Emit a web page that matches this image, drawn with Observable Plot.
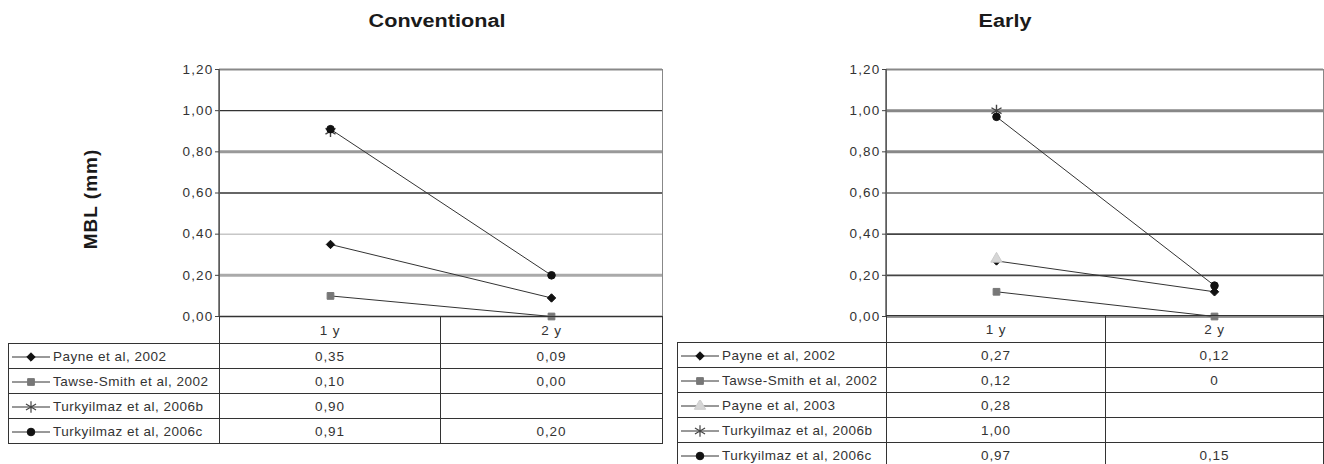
<!DOCTYPE html>
<html><head><meta charset="utf-8">
<script src="https://cdn.jsdelivr.net/npm/d3@7"></script>
<script src="https://cdn.jsdelivr.net/npm/@observablehq/plot@0.6"></script>
<style>
body{margin:0;background:#fff;font-family:"Liberation Sans",Arial,sans-serif;}
#root{position:relative;width:1324px;height:464px;overflow:hidden;background:#fff;}
.title{position:absolute;top:11px;font-weight:bold;font-size:18px;color:#1a1a1a;transform:translateX(-50%) scaleX(1.2);white-space:nowrap;}
.ylab{position:absolute;left:91px;top:199px;font-weight:bold;font-size:19px;letter-spacing:1px;color:#1a1a1a;transform:translate(-50%,-50%) rotate(-90deg);white-space:nowrap;}
.chart{position:absolute;top:50px;}
.chart svg text{letter-spacing:1.2px;}
table.t{position:absolute;border-collapse:collapse;font-size:13.5px;letter-spacing:0.9px;color:#333;table-layout:fixed;}
table.t td{border:1px solid #333;padding:0;text-align:center;overflow:hidden;white-space:nowrap;}
table.t td.leg{text-align:left;padding-left:2px;letter-spacing:0.5px;}
table.t td.blank{border:none;}
table.t svg{vertical-align:middle;margin-right:2px;}
</style></head>
<body><div id="root"></div>
<script>
// ---- data ----
const categories = ["1 y", "2 y"];
const yTicks = [0, 0.2, 0.4, 0.6, 0.8, 1.0, 1.2];

const convSeries = ["Payne et al, 2002", "Tawse-Smith et al, 2002", "Turkyilmaz et al, 2006b", "Turkyilmaz et al, 2006c"];
const convY1 = [0.35, 0.10, 0.90, 0.91];
const convY2 = [0.09, 0.00, null, 0.20];
const convLabels1 = ["0,35", "0,10", "0,90", "0,91"];
const convLabels2 = ["0,09", "0,00", "", "0,20"];

const earlySeries = ["Payne et al, 2002", "Tawse-Smith et al, 2002", "Payne et al, 2003", "Turkyilmaz et al, 2006b", "Turkyilmaz et al, 2006c"];
const earlyY1 = [0.27, 0.12, 0.28, 1.00, 0.97];
const earlyY2 = [0.12, 0.00, null, null, 0.15];
const earlyLabels1 = ["0,27", "0,12", "0,28", "1,00", "0,97"];
const earlyLabels2 = ["0,12", "0", "", "", "0,15"];

// ---- styles ----
const seriesStyle = {
  "Payne et al, 2002": {symbol: "diamond2", fill: "#111", stroke: "#111", r: 3.8},
  "Tawse-Smith et al, 2002": {symbol: "square", fill: "#777", stroke: "#777", r: 3.8},
  "Payne et al, 2003": {symbol: "triangle", fill: "#d6d6d6", stroke: "#ccc", r: 4.2},
  "Turkyilmaz et al, 2006b": {symbol: "asterisk", fill: "none", stroke: "#444", r: 5.5},
  "Turkyilmaz et al, 2006c": {symbol: "circle", fill: "#111", stroke: "#111", r: 3.8}
};
const d3sym = {diamond2: d3.symbolDiamond2, square: d3.symbolSquare, triangle: d3.symbolTriangle, asterisk: d3.symbolAsterisk, circle: d3.symbolCircle};
const fmt = d => d3.format(".2f")(d).replace(".", ",");

const convGrid = {0: ["#333", 1.6], 0.2: ["#aaa", 3], 0.4: ["#aaa", 1], 0.6: ["#333", 1.4], 0.8: ["#999", 3], 1: ["#333", 1.4], 1.2: ["#c4c4c4", 3]};
const earlyGrid = {0: ["#777", 2.6], 0.2: ["#444", 1.8], 0.4: ["#444", 1.8], 0.6: ["#666", 1.5], 0.8: ["#888", 3], 1: ["#888", 3], 1.2: ["#c4c4c4", 3]};

const root = document.getElementById("root");

function makeChart({series, v1, v2, grid, left, width, marginLeft, marginRight}) {
  const marks = [];
  yTicks.forEach(t => {
    const g = grid[t];
    marks.push(Plot.ruleY([t], {stroke: g[0], strokeWidth: g[1]}));
  });
  marks.push(Plot.frame({stroke: "#888", strokeWidth: 1}));
  marks.push((index, scales, values, dim) => {
    return d3.create("svg:line")
      .attr("x1", dim.marginLeft).attr("x2", dim.marginLeft)
      .attr("y1", dim.marginTop).attr("y2", dim.height - dim.marginBottom)
      .attr("stroke", "#444").attr("stroke-width", 1.3).node();
  });
  marks.push(Plot.axisY({ticks: yTicks, tickFormat: fmt, tickSize: 4, tickPadding: 2, label: null, fontSize: 13.5, stroke: "#444"}));
  series.forEach((s, i) => {
    const pts = [{x: categories[0], y: v1[i]}, {x: categories[1], y: v2[i]}].filter(d => d.y != null);
    marks.push(Plot.line(pts, {x: "x", y: "y", stroke: "#333", strokeWidth: 1}));
  });
  series.forEach((s, i) => {
    const pts = [{x: categories[0], y: v1[i]}, {x: categories[1], y: v2[i]}].filter(d => d.y != null);
    const st = seriesStyle[s];
    marks.push(Plot.dot(pts, {x: "x", y: "y", symbol: st.symbol, fill: st.fill, stroke: st.stroke, r: st.r, strokeWidth: st.symbol === "asterisk" ? 1.4 : 1}));
  });
  const p = Plot.plot({
    width, height: 270, marginTop: 19, marginBottom: 4, marginLeft, marginRight,
    x: {type: "point", domain: categories, padding: 0.5, axis: null},
    y: {domain: [0, 1.2], axis: null},
    style: {fontFamily: "Liberation Sans, Arial, sans-serif", fontSize: "13.5px", color: "#333", background: "transparent", overflow: "visible"},
    marks
  });
  const div = document.createElement("div");
  div.className = "chart";
  div.style.left = left + "px";
  div.appendChild(p);
  root.appendChild(div);
}

function legendSwatch(s) {
  const st = seriesStyle[s];
  const svg = d3.create("svg").attr("width", 40).attr("height", 12);
  svg.append("line").attr("x1", 1).attr("x2", 39).attr("y1", 6).attr("y2", 6).attr("stroke", "#333").attr("stroke-width", 1);
  const size = Math.PI * st.r * st.r;
  svg.append("path").attr("d", d3.symbol(d3sym[st.symbol], size)()).attr("transform", "translate(20,6)")
    .attr("fill", st.fill).attr("stroke", st.stroke).attr("stroke-width", st.symbol === "asterisk" ? 1.2 : 1);
  return svg.node();
}

function makeTable({series, l1, l2, left, top, widths, headH, rowH}) {
  const table = d3.select(root).append("table").attr("class", "t")
    .style("left", left + "px").style("top", top + "px")
    .style("width", d3.sum(widths) + "px");
  const cg = table.append("colgroup");
  widths.forEach(w => cg.append("col").style("width", w + "px"));
  const hr = table.append("tr").style("height", headH + "px");
  hr.append("td").attr("class", "blank");
  categories.forEach(c => hr.append("td").text(c));
  series.forEach((s, i) => {
    const tr = table.append("tr").style("height", rowH + "px");
    const td = tr.append("td").attr("class", "leg");
    td.node().appendChild(legendSwatch(s));
    td.append("span").text(s);
    tr.append("td").text(l1[i]);
    tr.append("td").text(l2[i]);
  });
}

const t1 = document.createElement("div"); t1.className = "title"; t1.style.left = "437px"; t1.textContent = "Conventional"; root.appendChild(t1);
const t2 = document.createElement("div"); t2.className = "title"; t2.style.left = "1005px"; t2.textContent = "Early"; root.appendChild(t2);
const yl = document.createElement("div"); yl.className = "ylab"; yl.textContent = "MBL (mm)"; root.appendChild(yl);

makeChart({series: convSeries, v1: convY1, v2: convY2, grid: convGrid, left: 0, width: 670, marginLeft: 219, marginRight: 8});
makeChart({series: earlySeries, v1: earlyY1, v2: earlyY2, grid: earlyGrid, left: 664, width: 660, marginLeft: 222, marginRight: 1});

makeTable({series: convSeries, l1: convLabels1, l2: convLabels2, left: 8, top: 316, widths: [211, 221, 222], headH: 27, rowH: 25});
makeTable({series: earlySeries, l1: earlyLabels1, l2: earlyLabels2, left: 677, top: 315, widths: [209, 219, 218], headH: 27, rowH: 25});
</script></body></html>
